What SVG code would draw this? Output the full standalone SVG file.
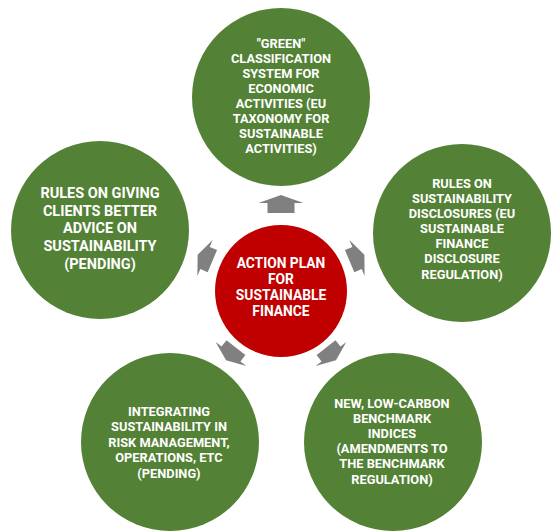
<svg xmlns="http://www.w3.org/2000/svg" xmlns:xlink="http://www.w3.org/1999/xlink" width="559" height="531" viewBox="0 0 559 531">
<style>
.g{fill:#538135}
.r{fill:#C00000}
.a{fill:#808080}
text{font-family:Roboto,"Liberation Sans",sans-serif;font-weight:bold;fill:#ffffff;text-anchor:middle}
.t{font-size:12.8px}
.l{font-size:14.5px}
.c{font-size:13.8px}
</style>
<defs>
<path id="bigArrow" d="M0,-9 L22.5,-1 L13.5,-1 L13.5,9 L-13.5,9 L-13.5,-1 L-22.5,-1 Z"/>
<path id="smallArrow" d="M0,-8 L19.5,0 L12,0 L12,8 L-12,8 L-12,0 L-19.5,0 Z"/>
</defs>
<rect width="559" height="531" fill="#ffffff"/>
<g id="connectors" class="a">
<use xlink:href="#bigArrow" href="#bigArrow" transform="translate(281,204)"/>
<use xlink:href="#smallArrow" href="#smallArrow" transform="translate(205,258) rotate(-67)"/>
<use xlink:href="#smallArrow" href="#smallArrow" transform="translate(357,258) rotate(67)"/>
<use xlink:href="#smallArrow" href="#smallArrow" transform="translate(231,354) rotate(-142)"/>
<use xlink:href="#smallArrow" href="#smallArrow" transform="translate(331,354) rotate(142)"/>
</g>
<g id="center">
<circle class="r" cx="281" cy="291" r="66"/>
<text class="c"><tspan x="281" y="268">ACTION PLAN</tspan><tspan x="281" y="284">FOR</tspan><tspan x="281" y="300">SUSTAINABLE</tspan><tspan x="281" y="316">FINANCE</tspan></text>
</g>
<g id="taxonomy">
<circle class="g" cx="281" cy="97" r="89"/>
<text class="t"><tspan x="281" y="47.5">"GREEN"</tspan><tspan x="281" y="62.6">CLASSIFICATION</tspan><tspan x="281" y="77.7">SYSTEM FOR</tspan><tspan x="281" y="92.8">ECONOMIC</tspan><tspan x="281" y="107.9">ACTIVITIES (EU</tspan><tspan x="281" y="123">TAXONOMY FOR</tspan><tspan x="281" y="138.1">SUSTAINABLE</tspan><tspan x="281" y="153.2">ACTIVITIES)</tspan></text>
</g>
<g id="disclosures">
<circle class="g" cx="462" cy="233" r="89"/>
<text class="t"><tspan x="462" y="187.5">RULES ON</tspan><tspan x="462" y="202.7">SUSTAINABILITY</tspan><tspan x="462" y="217.8">DISCLOSURES (EU</tspan><tspan x="462" y="233">SUSTAINABLE</tspan><tspan x="462" y="248.2">FINANCE</tspan><tspan x="462" y="263.3">DISCLOSURE</tspan><tspan x="462" y="278.5">REGULATION)</tspan></text>
</g>
<g id="benchmark">
<circle class="g" cx="393" cy="442" r="89"/>
<text class="t"><tspan x="392" y="407.5">NEW, LOW-CARBON</tspan><tspan x="392" y="422.7">BENCHMARK</tspan><tspan x="392" y="437.9">INDICES</tspan><tspan x="392" y="453.1">(AMENDMENTS TO</tspan><tspan x="392" y="468.3">THE BENCHMARK</tspan><tspan x="392" y="483.5">REGULATION)</tspan></text>
</g>
<g id="risk">
<circle class="g" cx="170" cy="442" r="89"/>
<text class="t"><tspan x="169" y="415.6">INTEGRATING</tspan><tspan x="169" y="431.1">SUSTAINABILITY IN</tspan><tspan x="169" y="446.6">RISK MANAGEMENT,</tspan><tspan x="169" y="462.1">OPERATIONS, ETC</tspan><tspan x="169" y="477.6">(PENDING)</tspan></text>
</g>
<g id="advice">
<circle class="g" cx="100" cy="230" r="89"/>
<text class="l"><tspan x="100" y="198">RULES ON GIVING</tspan><tspan x="100" y="215.7">CLIENTS BETTER</tspan><tspan x="100" y="233.4">ADVICE ON</tspan><tspan x="100" y="251.1">SUSTAINABILITY</tspan><tspan x="100" y="268.8">(PENDING)</tspan></text>
</g>
</svg>
